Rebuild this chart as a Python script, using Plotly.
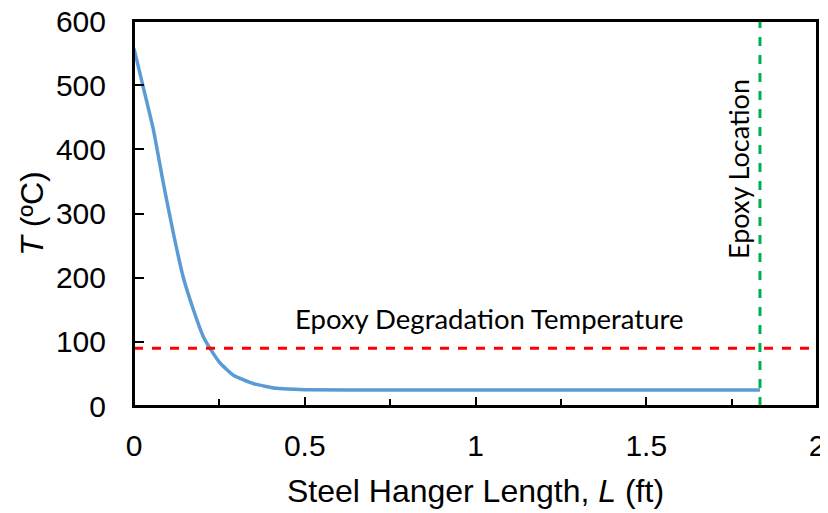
import plotly.graph_objects as go

# Temperature profile along the steel hanger
length_ft = [0.0, 0.027, 0.057, 0.086, 0.115, 0.144, 0.174, 0.203, 0.232, 0.252,
             0.291, 0.349, 0.418, 0.5, 0.75, 1.0, 1.25, 1.5, 1.833]
temp_c = [557, 497, 430, 347, 270, 201, 150, 108, 82, 67,
          48, 35, 27.5, 25.5, 25, 25, 25, 25, 25]

degradation_temp = 90          # °C
epoxy_location = 1.833         # ft
x_range = [0, 2]
y_range = [0, 600]

fig = go.Figure()
fig.add_trace(go.Scatter(x=length_ft, y=temp_c, mode="lines",
                         line=dict(color="#5B9BD5", width=3.5, shape="spline", smoothing=0.5),
                         showlegend=False, hoverinfo="skip"))
fig.add_trace(go.Scatter(x=x_range, y=[degradation_temp, degradation_temp], mode="lines",
                         line=dict(color="#FF0000", width=3, dash="dash"),
                         showlegend=False, hoverinfo="skip"))
fig.add_trace(go.Scatter(x=[epoxy_location, epoxy_location], y=y_range, mode="lines",
                         line=dict(color="#00B050", width=3, dash="dash"),
                         showlegend=False, hoverinfo="skip"))

fig.add_annotation(x=1.04, y=137, xref="x", yref="y", text="Epoxy Degradation Temperature",
                   showarrow=False, font=dict(family="Lato", size=27.5, color="black"))
fig.add_annotation(x=1.77, y=370, xref="x", yref="y", text="Epoxy Location", textangle=-90,
                   showarrow=False, font=dict(family="Lato", size=27, color="black"))

# plot frame
fig.add_shape(type="rect", xref="paper", yref="paper", x0=0, x1=1, y0=0, y1=1,
              line=dict(color="black", width=2), fillcolor="rgba(0,0,0,0)", layer="above")

# page body has an 8px margin, so the figure is sized/offset to compensate
fig.update_layout(
    width=820, height=505,
    margin=dict(l=126, r=11, t=13, b=107),
    paper_bgcolor="white", plot_bgcolor="white",
    font=dict(family="Liberation Sans, Arial", size=30, color="black"),
)
fig.update_xaxes(range=x_range, tickvals=[0, 0.5, 1, 1.5, 2], ticktext=["0", "0.5", "1", "1.5", "2"],
                 ticks="inside", ticklen=9, tickwidth=1.5, tickcolor="black",
                 minor=dict(dtick=0.25, ticks="inside", ticklen=7, tickwidth=1.5, tickcolor="black"),
                 showline=True, linecolor="black", linewidth=2, mirror=True, showgrid=False,
                 zeroline=False, ticklabelstandoff=12, automargin=False, ticklabeloverflow="allow",
                 title=dict(text="Steel Hanger Length, <i>L</i> (ft)", font=dict(size=32), standoff=19))
fig.update_yaxes(range=y_range, dtick=100, ticks="inside", ticklen=10, tickwidth=1.5, tickcolor="black",
                 showline=True, linecolor="black", linewidth=2, mirror=True, showgrid=False,
                 zeroline=False, ticklabelstandoff=20, automargin=False, ticklabeloverflow="allow",
                 title=dict(text="<i>T</i> (ºC)", font=dict(size=32), standoff=3))

fig.write_html("out.html")
